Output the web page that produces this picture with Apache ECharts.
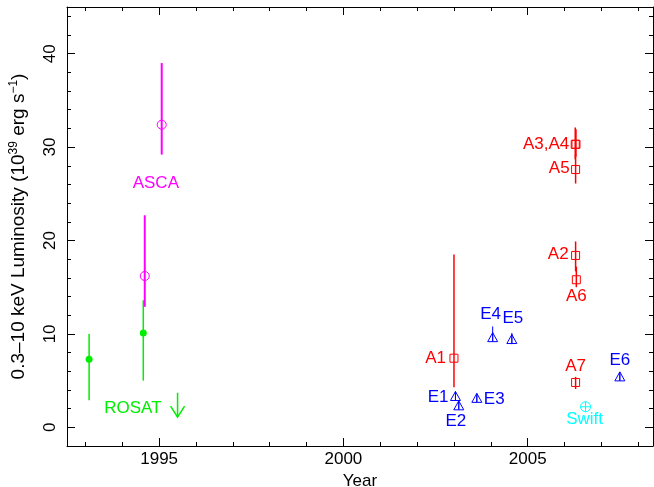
<!DOCTYPE html>
<html>
<head>
<meta charset="utf-8">
<title>Luminosity history</title>
<script src="https://cdn.jsdelivr.net/npm/echarts@6/dist/echarts.min.js"></script>
<style>html,body{margin:0;padding:0;background:#fff;}</style>
</head>
<body>
<div id="chart" style="width:654px;height:487px;"></div>
<script>
// ROSAT points with error bars
var rosatYears = [1993.10, 1994.57];
var rosatLum = [7.3, 10.1];
var rosatErr = [[2.9, 10.0], [5.0, 13.6]];
// ROSAT upper limit: year, arrow top, arrow tip
var rosatLimit = [1995.5, 3.7, 1.1];

// ASCA
var ascaYears = [1994.61, 1995.07];
var ascaLum = [16.2, 32.4];
var ascaErr = [[12.9, 22.7], [29.2, 39.0]];
var ascaLabelAt = [1994.91, 26.1];

// Chandra (A)
var chandraLabels = ['A1', 'A2', 'A3,A4', '', 'A5', 'A6', 'A7'];
var chandraYears = [2003.00, 2006.30, 2006.29, 2006.31, 2006.30, 2006.32, 2006.30];
var chandraLum = [7.4, 18.4, 30.3, 30.3, 27.6, 15.8, 4.8];
var chandraErr = [[4.3, 18.5], [16.7, 19.9], [28.7, 32.1], [29.0, 31.9], [26.1, 29.2], [15.0, 17.2], [4.1, 5.4]];

// XMM (E)
var xmmLabels = ['E1', 'E2', 'E3', 'E4', 'E5', 'E6'];
var xmmYears = [2003.04, 2003.13, 2003.62, 2004.05, 2004.57, 2007.50];
var xmmLum = [3.3, 2.3, 3.1, 9.6, 9.4, 5.4];
var xmmErr = [[2.9, 3.7], [1.9, 2.7], [2.7, 3.5], [9.2, 10.8], [8.9, 10.1], [5.0, 5.8]];

// Swift
var swiftLabels = ['Swift'];
var swiftYears = [2006.57];
var swiftLum = [2.2];

// axis ticks
var xMajor = [1995, 2000, 2005];
var xMinor = [1993, 1994, 1996, 1997, 1998, 1999, 2001, 2002, 2003, 2004, 2006, 2007, 2008];
var yMajor = [0, 10, 20, 30, 40];
var yMinor = [2, 4, 6, 8, 12, 14, 16, 18, 22, 24, 26, 28, 32, 34, 36, 38, 42, 44];

var FONT = '"Liberation Sans", Arial, Helvetica, sans-serif';
var FS = 17;
var GREEN = '#00ee00';

// label offsets in pixels from the point: [dx, dy, align]
var labelPos = {
    'A1': [-8, 0, 'right'], 'A2': [-7, -1, 'right'], 'A3,A4': [-6, 0, 'right'],
    'A5': [-6, -1, 'right'], 'A6': [0, 17, 'center'], 'A7': [0, -16, 'center'],
    'E1': [-7, 1, 'right'], 'E2': [-3, 15, 'center'], 'E3': [7, 1, 'left'],
    'E4': [-2, -23, 'center'], 'E5': [1, -21, 'center'], 'E6': [0, -17, 'center'],
    'Swift': [-1, 13, 'center']
};

function rows(xs, ys, errs) {
    return xs.map(function (x, i) {
        var e = errs ? errs[i] : [ys[i], ys[i]];
        return [x, ys[i], e[0], e[1]];
    });
}

function marker(kind, p, color) {
    var x = p[0], y = p[1];
    var st = {stroke: color, fill: 'none', lineWidth: 1};
    if (kind === 'disc') {
        return {type: 'circle', shape: {cx: x, cy: y, r: 3.5}, style: {fill: color}};
    }
    if (kind === 'circle') {
        return {type: 'circle', shape: {cx: x, cy: y, r: 4.5}, style: st};
    }
    if (kind === 'square') {
        return {type: 'rect', shape: {x: x - 4, y: y - 4, width: 8, height: 8}, style: st};
    }
    if (kind === 'triangle') {
        return {type: 'group', children: [
            {type: 'polygon', shape: {points: [[x, y - 5], [x - 5, y + 4], [x + 5, y + 4]]}, style: st},
            {type: 'line', shape: {x1: x, y1: y - 5, x2: x, y2: y + 4}, style: st}
        ]};
    }
    // circle with plus
    return {type: 'group', children: [
        {type: 'circle', shape: {cx: x, cy: y, r: 5}, style: st},
        {type: 'line', shape: {x1: x - 5, y1: y, x2: x + 5, y2: y}, style: st},
        {type: 'line', shape: {x1: x, y1: y - 5, x2: x, y2: y + 5}, style: st}
    ]};
}

function textEl(str, x, y, align, color) {
    return {type: 'text', style: {text: str, x: x, y: y, align: align, verticalAlign: 'middle',
        fill: color, font: FS + 'px ' + FONT}};
}

function makeRender(kind, color, lw, labels) {
    return function (params, api) {
        var i = params.dataIndex;
        var p = api.coord([api.value(0), api.value(1)]);
        var lo = api.coord([api.value(0), api.value(2)]);
        var hi = api.coord([api.value(0), api.value(3)]);
        var children = [];
        if (lo[1] !== hi[1]) {
            children.push({type: 'line', shape: {x1: p[0], y1: lo[1], x2: p[0], y2: hi[1]},
                style: {stroke: color, lineWidth: lw}});
        }
        children.push(marker(kind, p, color));
        var lab = labels ? labels[i] : '';
        if (lab) {
            var o = labelPos[lab];
            children.push(textEl(lab, p[0] + o[0], p[1] + o[1], o[2], color));
        }
        return {type: 'group', children: children};
    };
}

function limitRender(params, api) {
    var top = api.coord([api.value(0), api.value(1)]);
    var tip = api.coord([api.value(0), api.value(2)]);
    var st = {stroke: GREEN, fill: 'none', lineWidth: 1.5};
    return {type: 'group', children: [
        {type: 'line', shape: {x1: top[0], y1: top[1], x2: tip[0], y2: tip[1]}, style: st},
        {type: 'polyline', shape: {points: [[tip[0] - 7, tip[1] - 11], [tip[0], tip[1]], [tip[0] + 7, tip[1] - 11]]}, style: st},
        textEl('ROSAT', tip[0] - 16, top[1] + 16, 'right', GREEN)
    ]};
}

function textRender(str, color) {
    return function (params, api) {
        var p = api.coord([api.value(0), api.value(1)]);
        return textEl(str, p[0], p[1], 'center', color);
    };
}

function xAx(pos, ticks, len, main) {
    return {
        type: 'value', min: 1992.5, max: 2008.4, position: pos,
        axisLine: {show: main, onZero: false, lineStyle: {color: '#000', width: 1}},
        axisTick: {show: true, inside: true, length: len, customValues: ticks, lineStyle: {color: '#000', width: 1}},
        axisLabel: {show: main && pos === 'bottom', customValues: xMajor, color: '#000', fontSize: FS,
            fontFamily: FONT, margin: 5, formatter: function (v) { return String(v); }},
        splitLine: {show: false},
        name: main && pos === 'bottom' ? 'Year' : '', nameLocation: 'middle', nameGap: 26,
        nameTextStyle: {color: '#000', fontSize: FS, fontFamily: FONT}
    };
}

function yAx(pos, ticks, len, main) {
    var left = main && pos === 'left';
    return {
        type: 'value', min: -2, max: 45, position: pos,
        axisLine: {show: main, onZero: false, lineStyle: {color: '#000', width: 1}},
        axisTick: {show: true, inside: true, length: len, customValues: ticks, lineStyle: {color: '#000', width: 1}},
        axisLabel: {show: left, customValues: yMajor, rotate: 90, color: '#000', fontSize: FS,
            fontFamily: FONT, margin: 8},
        splitLine: {show: false},
        name: left ? '0.3\u201310 keV Luminosity (10{sup|39} erg s{sup|\u22121})' : '',
        nameLocation: 'middle', nameRotate: 90, nameGap: 37,
        nameTextStyle: {color: '#000', fontSize: 19, fontFamily: FONT, lineHeight: 22,
            rich: {sup: {fontSize: 12, fontFamily: FONT, color: '#000', verticalAlign: 'top', lineHeight: 22}}}
    };
}

var chart = echarts.init(document.getElementById('chart'), null, {renderer: 'canvas'});

chart.setOption({
    animation: false,
    backgroundColor: '#fff',
    grid: {left: 67, right: 1, top: 7, bottom: 41, containLabel: false, outerBoundsMode: 'none'},
    xAxis: [
        xAx('bottom', xMajor, 8, true), xAx('bottom', xMinor, 4, false),
        xAx('top', xMajor, 8, true), xAx('top', xMinor, 4, false)
    ],
    yAxis: [
        yAx('left', yMajor, 8, true), yAx('left', yMinor, 4, false),
        yAx('right', yMajor, 8, true), yAx('right', yMinor, 4, false)
    ],
    series: [
        {type: 'custom', name: 'ROSAT', clip: false, renderItem: makeRender('disc', GREEN, 1.5, null),
            data: rows(rosatYears, rosatLum, rosatErr)},
        {type: 'custom', name: 'ROSAT limit', clip: false, renderItem: limitRender,
            data: [rosatLimit]},
        {type: 'custom', name: 'ASCA', clip: false, renderItem: makeRender('circle', '#ff00ff', 2, null),
            data: rows(ascaYears, ascaLum, ascaErr)},
        {type: 'custom', name: 'ASCA label', clip: false, renderItem: textRender('ASCA', '#ff00ff'),
            data: [ascaLabelAt]},
        {type: 'custom', name: 'Chandra', clip: false, renderItem: makeRender('square', '#ff0000', 1.5, chandraLabels),
            data: rows(chandraYears, chandraLum, chandraErr)},
        {type: 'custom', name: 'XMM', clip: false, renderItem: makeRender('triangle', '#0000ff', 1, xmmLabels),
            data: rows(xmmYears, xmmLum, xmmErr)},
        {type: 'custom', name: 'Swift', clip: false, renderItem: makeRender('cross', '#00ffff', 1, swiftLabels),
            data: rows(swiftYears, swiftLum, null)}
    ]
});
</script>
</body>
</html>
